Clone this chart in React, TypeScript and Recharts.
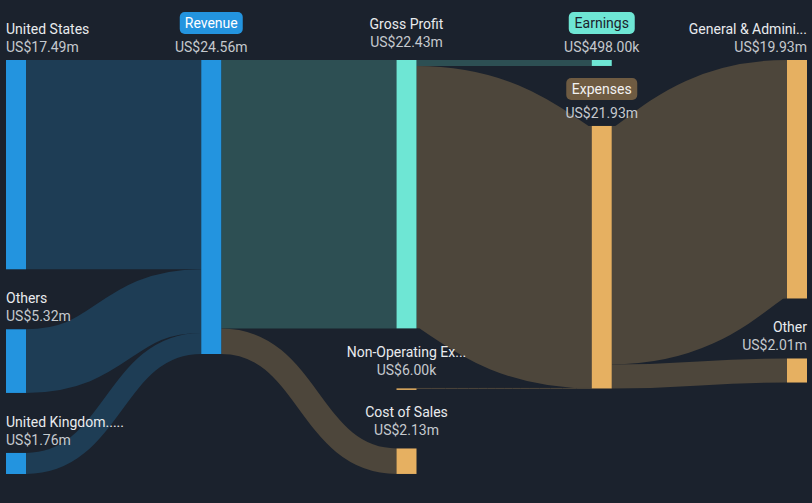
import React from 'react';
import { Sankey } from 'recharts';

const nodeNames = [
  'United States',
  'Others',
  'United Kingdom.....',
  'Revenue',
  'Gross Profit',
  'Non-Operating Ex...',
  'Cost of Sales',
  'Earnings',
  'Expenses',
  'General & Admini...',
  'Other',
];
const nodeValuesM = [17.49, 5.32, 1.76, 24.56, 22.43, 0.006, 2.13, 0.498, 21.93, 19.93, 2.01];
const nodeKinds = ['blue', 'blue', 'blue', 'blue', 'mint', 'gold', 'gold', 'mint', 'gold', 'gold', 'gold'];

const linkSources = [0, 1, 2, 3, 3, 3, 4, 4, 5, 8, 8];
const linkTargets = [3, 3, 3, 4, 5, 6, 7, 8, 8, 9, 10];
const linkValues = [17.49, 5.32, 1.76, 22.43, 0.006, 2.13, 0.498, 21.93, 0.006, 19.93, 2.01];
const linkKinds = ['blue', 'blue', 'blue', 'teal', 'hidden', 'brown', 'teal', 'brown', 'brown', 'brown', 'brown'];

const NODE_COLORS: Record<string, string> = { blue: '#2394df', mint: '#6ee6d4', gold: '#e6b061' };
const LINK_COLORS: Record<string, string> = { blue: '#1e3d55', teal: '#2d4f53', brown: '#4d463b', hidden: 'transparent' };
const BADGES: Record<string, { fill: string; text: string; w: number }> = {
  Revenue: { fill: '#2394df', text: '#ffffff', w: 63 },
  Earnings: { fill: '#6ee6d4', text: '#1b222d', w: 66 },
  Expenses: { fill: '#6e5b42', text: '#f2f2f2', w: 71 },
};

const fmt = (v: number) => (v >= 1 ? `US$${v.toFixed(2)}m` : `US$${(v * 1000).toFixed(2)}k`);

const data = {
  nodes: nodeNames.map((name) => ({ name })),
  links: linkSources.map((s, i) => ({ source: s, target: linkTargets[i], value: linkValues[i] })),
};

const FONT = 'Roboto, "Noto Sans", sans-serif';

const NodeShape = (props: any) => {
  const { x, y, width, height, index, payload } = props;
  const found = nodeNames.indexOf(payload?.name);
  const idx = found >= 0 ? found : index;
  const name = nodeNames[idx];
  const depth = payload?.depth ?? 0;
  const color = NODE_COLORS[nodeKinds[idx]];
  let anchor: 'start' | 'middle' | 'end' = 'middle';
  let tx = x + width / 2;
  if (depth === 0) {
    anchor = 'start';
    tx = x;
  } else if (depth === 4) {
    anchor = 'end';
    tx = x + width;
  }
  const off = depth === 2 ? 5 : 0;
  const badge = BADGES[name];
  const h = Math.max(height, 1.5);
  return (
    <g>
      <rect x={x} y={y} width={width} height={h} fill={color} />
      {badge ? (
        <g>
          <rect x={tx - badge.w / 2} y={y - 48} width={badge.w} height={22} rx={5} ry={5} fill={badge.fill} />
          <text x={tx} y={y - 32} textAnchor="middle" fontFamily={FONT} fontSize={14} fill={badge.text}>
            {name}
          </text>
        </g>
      ) : (
        <text x={tx} y={y - 26 - off} textAnchor={anchor} fontFamily={FONT} fontSize={14} fill="#e9ebee">
          {name}
        </text>
      )}
      <text x={tx} y={y - 8 - off} textAnchor={anchor} fontFamily={FONT} fontSize={14} fill="#c5c9ce">
        {fmt(nodeValuesM[idx])}
      </text>
    </g>
  );
};

const LinkShape = (props: any) => {
  const { sourceX, targetX, sourceY, targetY, sourceControlX, targetControlX, linkWidth, index } = props;
  const kind = linkKinds[index];
  if (kind === 'hidden') return <g />;
  return (
    <path
      d={`M${sourceX},${sourceY} C${sourceControlX},${sourceY} ${targetControlX},${targetY} ${targetX},${targetY}`}
      fill="none"
      stroke={LINK_COLORS[kind]}
      strokeWidth={Math.max(linkWidth, 1)}
    />
  );
};

export default function App() {
  return (
    <div style={{ position: 'absolute', left: 0, top: 0, width: 812, height: 503, background: '#1b222d', overflow: 'hidden' }}>
      <Sankey
        width={812}
        height={503}
        data={data}
        nodeWidth={20}
        nodePadding={60}
        margin={{ top: 60, right: 5, bottom: 29, left: 6 }}
        node={<NodeShape />}
        link={<LinkShape />}
        sort={false}
        align="left"
        iterations={0}
      />
    </div>
  );
}
